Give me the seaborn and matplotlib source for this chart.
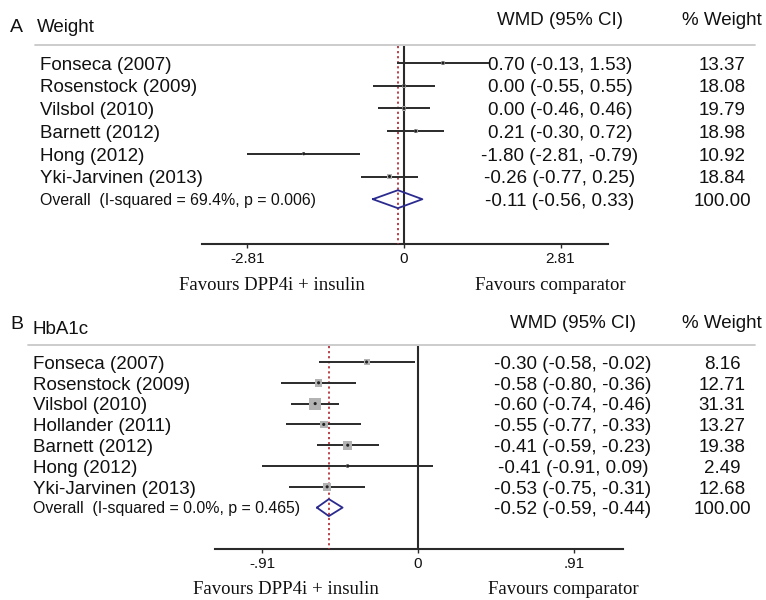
import matplotlib
matplotlib.use("Agg")
import matplotlib.pyplot as plt
import matplotlib.transforms as mtransforms
import seaborn as sns
import pandas as pd

# ---------------- data ----------------
studies_w = ["Fonseca (2007)", "Rosenstock (2009)", "Vilsbol (2010)", "Barnett (2012)",
             "Hong (2012)", "Yki-Jarvinen (2013)"]
est_w = [0.70, 0.00, 0.00, 0.21, -1.80, -0.26]
lo_w = [-0.13, -0.55, -0.46, -0.30, -2.81, -0.77]
hi_w = [1.53, 0.55, 0.46, 0.72, -0.79, 0.25]
wt_w = [13.37, 18.08, 19.79, 18.98, 10.92, 18.84]
overall_w = [-0.11, -0.56, 0.33]
overall_wt_w = 100.00
het_w = "Overall  (I-squared = 69.4%, p = 0.006)"
ticks_w = [-2.81, 0, 2.81]
ticklabels_w = ["-2.81", "0", "2.81"]

studies_h = ["Fonseca (2007)", "Rosenstock (2009)", "Vilsbol (2010)", "Hollander (2011)",
             "Barnett (2012)", "Hong (2012)", "Yki-Jarvinen (2013)"]
est_h = [-0.30, -0.58, -0.60, -0.55, -0.41, -0.41, -0.53]
lo_h = [-0.58, -0.80, -0.74, -0.77, -0.59, -0.91, -0.75]
hi_h = [-0.02, -0.36, -0.46, -0.33, -0.23, 0.09, -0.31]
wt_h = [8.16, 12.71, 31.31, 13.27, 19.38, 2.49, 12.68]
overall_h = [-0.52, -0.59, -0.44]
overall_wt_h = 100.00
het_h = "Overall  (I-squared = 0.0%, p = 0.465)"
ticks_h = [-0.91, 0, 0.91]
ticklabels_h = ["-.91", "0", ".91"]

sns.set_theme(style="white")
plt.rcParams["font.family"] = ["Liberation Sans", "DejaVu Sans"]

W, H = 766, 600
fig = plt.figure(figsize=(7.66, 6.0), dpi=100)
fig.patch.set_facecolor("white")

TXT = "#111111"
FS = 13.5
FS_OV = 11.4


def panel(ax, letter, title, studies, est, lo, hi, wt, overall, overall_wt, het,
          ticks, ticklabels, cfg):
    y0, dy = cfg["row0"], cfg["dy"]          # local pixel of first row, pixel spacing
    x0, ppu = cfg["zero_px"], cfg["ppu"]     # pixel of x=0, pixels per unit
    ax.set_xlim((0 - x0) / ppu, (W - x0) / ppu)
    ax.set_ylim((300 - y0) / dy, (0 - y0) / dy)
    ax.set_facecolor("none")
    for s in ["top", "left", "right"]:
        ax.spines[s].set_visible(False)

    def row(p):
        return (p - y0) / dy

    n = len(studies)
    rows = list(range(n))
    r_ov = n
    r_axis = row(cfg["axis_px"])
    r_top = row(cfg["line_top_px"])

    blend = mtransforms.blended_transform_factory(ax.transAxes, ax.transData)

    def txt(xpx, r, s, fs=FS, ha="left", color=TXT):
        off = (0.716 * fs / 72 * 100) / 2 / dy
        ax.text(xpx / W, r + off, s, transform=blend, ha=ha, va="baseline",
                fontsize=fs, color=color)

    # separator line
    ax.axhline(row(cfg["sep_px"]), xmin=cfg["sep_x0"] / W, xmax=755 / W,
               color="#c8c8c8", lw=1.3)
    # headers
    r_head = row(cfg["head_px"])
    txt(cfg["wmd_c"], r_head, "WMD (95% CI)", ha="center")
    txt(722, r_head, "% Weight", ha="center")

    # zero line and overall dotted line
    ax.vlines(0, r_top, r_axis, color="#2a2a2a", lw=1.5, zorder=2)
    ax.vlines(overall[0], r_top, r_axis, color="#b5333a", lw=1.3,
              linestyles=(0, (1.2, 1.6)), zorder=3)

    # CI lines
    ax.hlines(rows, lo, hi, color="#2a2a2a", lw=1.4, zorder=4)
    df = pd.DataFrame({"est": est, "row": rows, "wt": wt})
    sns.scatterplot(data=df, x="est", y="row", size="wt", sizes=(0, cfg["smax"]),
                    size_norm=(0, max(wt)), marker="s", color="#b3b3b3",
                    edgecolor="none", legend=False, ax=ax, zorder=5)
    sns.scatterplot(data=df, x="est", y="row", marker="o", s=5, color="#222222",
                    edgecolor="none", legend=False, ax=ax, zorder=6)

    # overall diamond
    e, l, h = overall
    hh = cfg["dia_half"] / dy
    ax.plot([l, e, h, e, l], [r_ov, r_ov - hh, r_ov, r_ov + hh, r_ov],
            color="#2b2b8f", lw=1.3, zorder=6)

    # text columns
    for i, s in enumerate(studies):
        txt(cfg["lab_x"], i, s)
        txt(cfg["wmd_c"], i, f"{est[i]:.2f} ({lo[i]:.2f}, {hi[i]:.2f})", ha="center")
        txt(722, i, f"{wt[i]:.2f}", ha="center")
    txt(cfg["lab_x"], r_ov, het, fs=FS_OV)
    txt(cfg["wmd_c"], r_ov, f"{e:.2f} ({l:.2f}, {h:.2f})", ha="center")
    txt(722, r_ov, f"{overall_wt:.2f}", ha="center")

    # x axis
    ax.spines["bottom"].set_position(("data", r_axis))
    ax.spines["bottom"].set_bounds((cfg["axis_x0"] - x0) / ppu, (cfg["axis_x1"] - x0) / ppu)
    ax.spines["bottom"].set_color("#2a2a2a")
    ax.spines["bottom"].set_linewidth(1.5)
    ax.set_xticks(ticks)
    ax.set_xticklabels(ticklabels)
    ax.set_yticks([])
    ax.tick_params(axis="x", direction="out", length=3.0, width=1.0, color="#2a2a2a",
                   labelsize=11, pad=3, labelcolor=TXT, bottom=True)
    ax.set_xlabel("")
    ax.set_ylabel("")

    # title
    txt(10, row(cfg["letter_px"]), letter, fs=14)
    txt(cfg["title_x"], row(cfg["title_px"]), title, fs=13.5)

    # favours labels
    r_fav = row(cfg["fav_px"])
    for xc, s in [(cfg["fav_l"], "Favours DPP4i + insulin"), (cfg["fav_r"], "Favours comparator")]:
        off = (0.662 * 13.5 / 72 * 100) / 2 / dy
        ax.text(xc / W, r_fav + off, s, transform=blend, ha="center", va="baseline",
                fontsize=13.5, color=TXT, family=["Liberation Serif", "DejaVu Serif"])


ax1 = fig.add_axes([0, 0.5, 1, 0.5])
ax2 = fig.add_axes([0, 0.0, 1, 0.5])

cfg1 = dict(row0=63, dy=22.7, zero_px=404, ppu=55.7, axis_px=244, line_top_px=46,
            sep_px=45, sep_x0=35, head_px=18, wmd_c=560, smax=9.3, dia_half=9,
            lab_x=40, axis_x0=202, axis_x1=608, letter_px=25, title_px=25, title_x=37,
            fav_px=284, fav_l=272, fav_r=550)
cfg2 = dict(row0=62, dy=20.8, zero_px=418, ppu=171.4, axis_px=249, line_top_px=46,
            sep_px=45, sep_x0=28, head_px=21, wmd_c=573, smax=74, dia_half=8.5,
            lab_x=33, axis_x0=215, axis_x1=623, letter_px=22, title_px=27, title_x=33,
            fav_px=288, fav_l=286, fav_r=563)

panel(ax1, "A", "Weight", studies_w, est_w, lo_w, hi_w, wt_w, overall_w, overall_wt_w,
      het_w, ticks_w, ticklabels_w, cfg1)
panel(ax2, "B", "HbA1c", studies_h, est_h, lo_h, hi_h, wt_h, overall_h, overall_wt_h,
      het_h, ticks_h, ticklabels_h, cfg2)

fig.savefig("out.png", dpi=100, facecolor="white")
